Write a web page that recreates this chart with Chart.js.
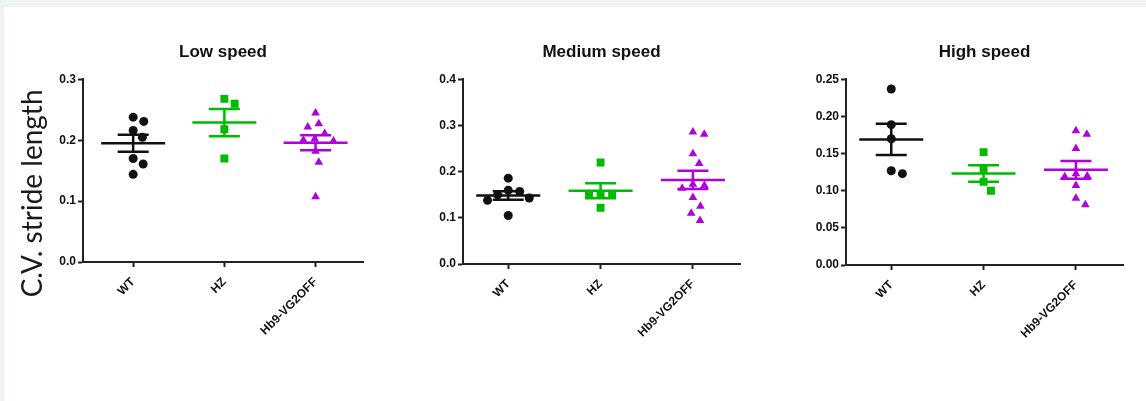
<!DOCTYPE html>
<html>
<head>
<meta charset="utf-8">
<script src="https://cdn.jsdelivr.net/npm/chart.js@4.4.1/dist/chart.umd.min.js"></script>
<style>
  html, body { margin: 0; padding: 0; background: #fff; }
  body { width: 1146px; height: 401px; position: relative; overflow: hidden; }
  .strip-top { position: absolute; left: 0; top: 0; width: 1146px; height: 7px; background: #edf3f3; }
  .strip-left { position: absolute; left: 0; top: 0; width: 4px; height: 401px; background: #edf3f3; }
  canvas { position: absolute; }
</style>
</head>
<body>
<div class="strip-top"></div>
<div class="strip-left"></div>
<canvas id="lowChart" width="363" height="317" style="left:10px;top:35px"></canvas>
<canvas id="medChart" width="330" height="319" style="left:420px;top:35px"></canvas>
<canvas id="highChart" width="333" height="320" style="left:800px;top:35px"></canvas>

<script>
// groups
const groups = ['WT', 'HZ', 'Hb9-VG2OFF'];

// C.V. stride length, low speed
const lowWT  = [0.238, 0.231, 0.216, 0.205, 0.170, 0.161, 0.144];
const lowHZ  = [0.268, 0.260, 0.218, 0.170];
const lowHb9 = [0.245, 0.227, 0.222, 0.211, 0.202, 0.200, 0.199, 0.182, 0.164, 0.107];

// medium speed
const medWT  = [0.186, 0.160, 0.157, 0.150, 0.143, 0.138, 0.105];
const medHZ  = [0.220, 0.151, 0.151, 0.150, 0.122];
const medHb9 = [0.286, 0.281, 0.239, 0.218, 0.173, 0.170, 0.164, 0.144, 0.125, 0.110, 0.094];

// high speed
const highWT  = [0.237, 0.189, 0.170, 0.127, 0.123];
const highHZ  = [0.152, 0.129, 0.112, 0.100];
const highHb9 = [0.181, 0.176, 0.157, 0.123, 0.120, 0.119, 0.107, 0.090, 0.081];

// y ticks
const lowTicks  = [0, 0.1, 0.2, 0.3];
const lowTickLabels = ['0.0', '0.1', '0.2', '0.3'];
const medTicks  = [0, 0.1, 0.2, 0.3, 0.4];
const medTickLabels = ['0.0', '0.1', '0.2', '0.3', '0.4'];
const highTicks = [0, 0.05, 0.10, 0.15, 0.20, 0.25];
const highTickLabels = ['0.00', '0.05', '0.10', '0.15', '0.20', '0.25'];

const colors = ['#111111', '#00bb00', '#b000e0'];
const shapes = ['circle', 'rect', 'triangle'];
const radii = [4.5, 5.6, 5];

const PLOT_H = 184;      // px height of plot area
const PX_PER_GROUP = 92; // px between group columns
const DOT_GAP = 11.5;    // min distance between markers in px

// simple beeswarm so points with similar values sit side by side
function swarm(values, pxPerValue) {
  const placed = [];
  return values.map(v => {
    const y = v * pxPerValue;
    const cands = [0];
    placed.forEach(p => {
      const dy = y - p.y;
      if (Math.abs(dy) < DOT_GAP) {
        const dx = Math.sqrt(DOT_GAP * DOT_GAP - dy * dy);
        cands.push(p.x + dx, p.x - dx);
      }
    });
    cands.sort((a, b) => Math.abs(a) - Math.abs(b));
    const x = cands.find(c => placed.every(p => (c - p.x) ** 2 + (y - p.y) ** 2 >= DOT_GAP * DOT_GAP - 0.01));
    placed.push({ x, y });
    return x;
  });
}

function meanSem(vals) {
  const n = vals.length;
  const m = vals.reduce((a, b) => a + b, 0) / n;
  const sd = Math.sqrt(vals.reduce((a, b) => a + (b - m) ** 2, 0) / (n - 1));
  return { mean: m, sem: sd / Math.sqrt(n) };
}

// mean line + SEM whiskers on top of the points
const meanSemPlugin = {
  id: 'meanSem',
  afterDatasetsDraw(chart) {
    const { ctx, scales: { x, y } } = chart;
    chart.data.datasets.forEach((ds, i) => {
      const { mean, sem } = meanSem(ds.values);
      const cx = x.getPixelForValue(i);
      const ym = y.getPixelForValue(mean);
      const yu = y.getPixelForValue(mean + sem);
      const yl = y.getPixelForValue(mean - sem);
      ctx.save();
      ctx.strokeStyle = ds.borderColor;
      ctx.lineWidth = 2.5;
      ctx.beginPath();
      ctx.moveTo(cx - 32, ym); ctx.lineTo(cx + 32, ym);
      ctx.moveTo(cx - 15.5, yu); ctx.lineTo(cx + 15.5, yu);
      ctx.moveTo(cx - 15.5, yl); ctx.lineTo(cx + 15.5, yl);
      ctx.moveTo(cx, yu); ctx.lineTo(cx, yl);
      ctx.stroke();
      ctx.restore();
    });
  }
};

// big y label on the left panel
const sideLabel = {
  id: 'sideLabel',
  afterDraw(chart, args, opts) {
    if (!opts.text) return;
    const { ctx, chartArea } = chart;
    ctx.save();
    ctx.translate(chartArea.left - 50, chartArea.top + 114);
    ctx.rotate(-Math.PI / 2);
    ctx.font = opts.font;
    ctx.fillStyle = '#1a1a1a';
    ctx.textAlign = 'center';
    ctx.textBaseline = 'middle';
    ctx.fillText(opts.text, 0, 0);
    ctx.restore();
  }
};

const tickFont = { family: 'Liberation Sans', size: 12, weight: 'bold' };

function makeChart(id, title, sets, tickVals, tickLabels, yWidth, xRange, yLabel) {
  const yMax = tickVals[tickVals.length - 1];
  const pxPerValue = PLOT_H / yMax;
  const datasets = sets.map((vals, i) => {
    const offs = swarm(vals, pxPerValue);
    return {
      label: groups[i],
      values: vals,
      data: vals.map((v, k) => ({ x: i + offs[k] / PX_PER_GROUP, y: v })),
      pointStyle: shapes[i],
      pointRadius: radii[i],
      pointHoverRadius: radii[i],
      backgroundColor: colors[i],
      borderColor: colors[i],
      borderWidth: 0
    };
  });

  new Chart(document.getElementById(id).getContext('2d'), {
    type: 'scatter',
    data: { datasets },
    plugins: [meanSemPlugin, sideLabel],
    options: {
      responsive: false,
      animation: false,
      layout: { padding: { right: 10 } },
      plugins: {
        legend: { display: false },
        tooltip: { enabled: false },
        title: {
          display: true,
          text: title,
          fullSize: false,
          color: '#111',
          font: { family: 'Liberation Sans', size: 17, weight: 'bold' },
          padding: { top: 7, bottom: 17 }
        },
        sideLabel: { text: yLabel, font: '28px Lato' }
      },
      scales: {
        x: {
          type: 'linear',
          min: xRange[0],
          max: xRange[1],
          afterBuildTicks: axis => { axis.ticks = groups.map((g, i) => ({ value: i })); },
          afterFit: scale => { scale.height = 90; },
          ticks: {
            autoSkip: false,
            minRotation: 45,
            maxRotation: 45,
            padding: 8,
            color: '#111',
            font: tickFont,
            callback: v => groups[v]
          },
          grid: { drawOnChartArea: false, tickLength: 5, tickWidth: 2, tickColor: '#222' },
          border: { color: '#222', width: 2 }
        },
        y: {
          min: 0,
          max: yMax,
          afterBuildTicks: axis => { axis.ticks = tickVals.map(v => ({ value: v })); },
          afterFit: scale => { scale.width = yWidth; },
          ticks: {
            padding: 2,
            color: '#111',
            font: tickFont,
            callback: (v, i) => tickLabels[i]
          },
          grid: { drawOnChartArea: false, tickLength: 5, tickWidth: 2, tickColor: '#222' },
          border: { color: '#222', width: 2 }
        }
      }
    }
  });
}

makeChart('lowChart', 'Low speed', [lowWT, lowHZ, lowHb9], lowTicks, lowTickLabels, 73, [-0.55, 2.52], 'C.V. stride length');
makeChart('medChart', 'Medium speed', [medWT, medHZ, medHb9], medTicks, medTickLabels, 43, [-0.49, 2.51], '');
makeChart('highChart', 'High speed', [highWT, highHZ, highHb9], highTicks, highTickLabels, 46, [-0.49, 2.51], '');
</script>
</body>
</html>
